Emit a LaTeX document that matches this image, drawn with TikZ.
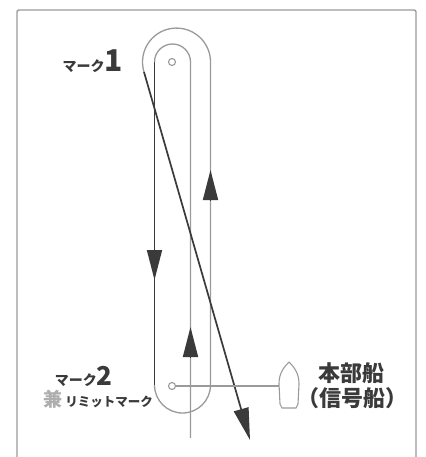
\documentclass[tikz,border=0pt]{standalone}
\usepackage{fontspec}
\newfontfamily\jpfont{Noto Sans CJK JP}
\usetikzlibrary{arrows.meta}
\definecolor{legcol}{HTML}{3A3A3A}
\definecolor{coursecol}{HTML}{9A9A9A}
\begin{document}
\begin{tikzpicture}[x=1pt,y=-1pt,
    frame/.style={draw=coursecol,line width=1.4pt,rounded corners=2pt},
    course/.style={draw=coursecol,line width=1.3pt},
    leg/.style={draw=legcol,line width=1.7pt},
    head/.style={draw=legcol,line width=1.7pt,-{Triangle[length=30pt,width=15pt]}},
    markbuoy/.style={circle,draw=coursecol,fill=white,line width=1.1pt,inner sep=0pt,minimum size=7pt},
    lab/.style={inner sep=0pt,text=legcol,font=\jpfont\bfseries}]
                \useasboundingbox (0,0) rectangle (425,457);

                % Draw the frame (open at the bottom)
                \draw[frame] (17,457) -- (17,10) -- (416,10) -- (416,457);

                % Draw the outer loop round the marks
                \draw[course] (144,72) arc[start angle=163,end angle=360,radius=34]
                    -- (210.5,385) arc[start angle=0,end angle=180,radius=28];

                % Draw the inner loop and the run up to the finish
                \draw[course] (154.5,62) arc[start angle=180,end angle=360,radius=18]
                    -- (190.5,438);

                % Draw the downwind leg and the start leg
                \draw[leg] (154.5,62) -- (154.5,385);
                \draw[leg,-{Triangle[length=32pt,width=15pt]}] (144,72) -- (250,440);

                % Arrowheads on the legs
                \draw[head] (154.5,250) -- (154.5,280);
                \draw[head] (210.5,201) -- (210.5,170);
                \draw[head] (190.5,358) -- (190.5,327);

                % Draw the marks
                \node[markbuoy] (m1) at (172,62) {};
                \node[markbuoy] (m2) at (172,386) {};

                % Draw the committee boat and the line to mark 2
                \draw[course,line width=1.1pt] (289,362) .. controls (283,368) and (279,374) .. (279,384)
                    -- (280,404) -- (282,408) -- (296,408) -- (298,404) -- (299,384)
                    .. controls (299,374) and (295,368) .. (289,362);
                \coordinate (boat) at (279,386);
                \draw[course] (m2) -- (boat);

                % Label the marks
                \node[lab,anchor=base east] (lab1) at (123,72)
                    {\fontsize{14}{14}\selectfont マーク\fontsize{30}{30}\selectfont 1};
                \node[lab,anchor=base east] (lab2) at (113,385)
                    {\fontsize{14}{14}\selectfont マーク\fontsize{26}{26}\selectfont 2};
                \node[lab,anchor=base east] (lab2b) at (153,406)
                    {\fontsize{19}{19}\selectfont\textcolor{coursecol!80}{兼}\hspace{3pt}\fontsize{12.5}{12.5}\selectfont リミットマーク};

                % Label the committee boat
                \node[lab,anchor=base] (hq) at (351,381.5) {\fontsize{22}{22}\selectfont 本部船};
                \node[lab,anchor=base] (hqb) at (352,406.5) {\fontsize{22}{22}\selectfont （信号船）};

            \end{tikzpicture}
\end{document}
